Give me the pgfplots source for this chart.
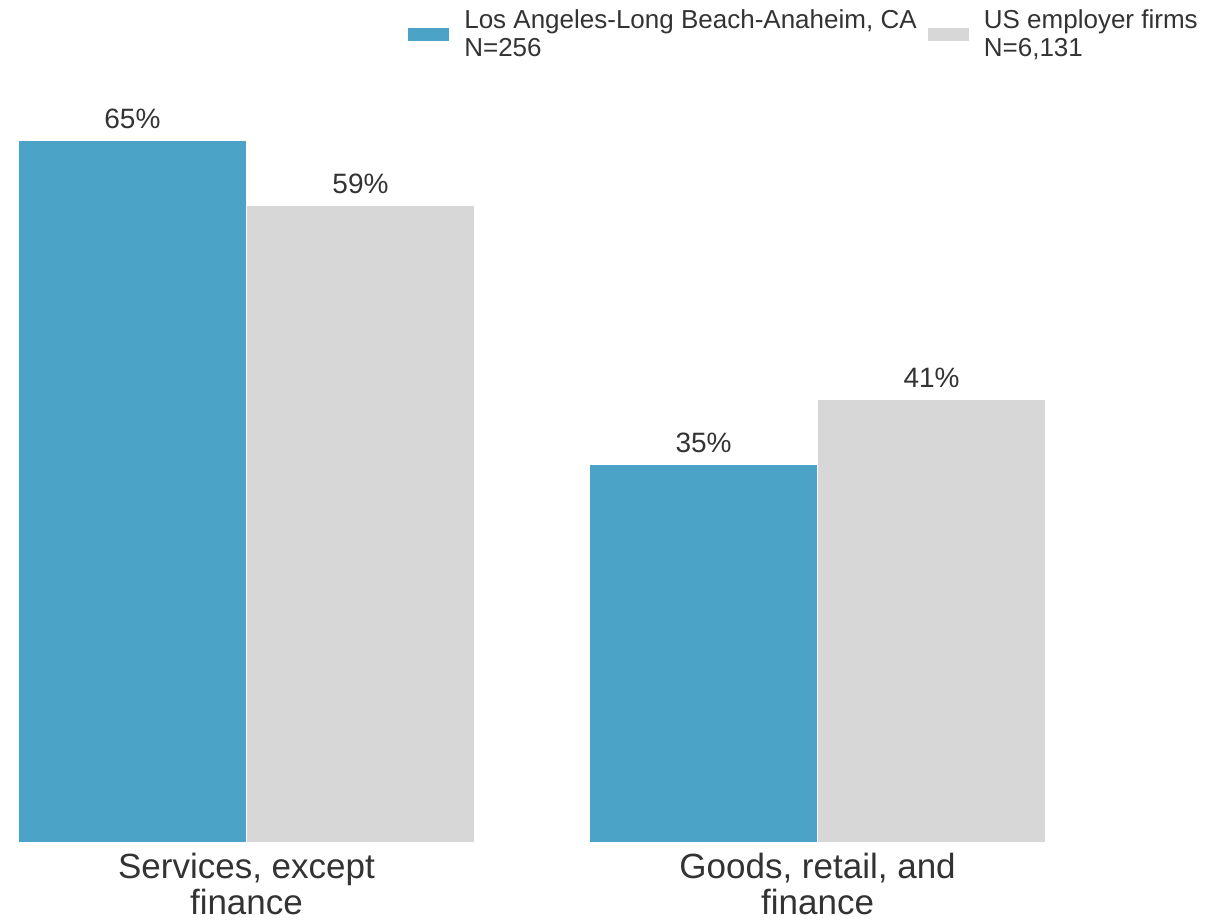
\documentclass[border=0pt]{standalone}
\usepackage{pgfplots}
\pgfplotsset{compat=1.18}
\usepackage{fontspec}
\setmainfont{Liberation Sans}
\definecolor{barblue}{HTML}{4BA4C8}
\definecolor{bargray}{HTML}{D7D7D7}
\definecolor{txt}{HTML}{333333}
\begin{document}
\begin{tikzpicture}[x=0.5bp,y=0.5bp]
\path[use as bounding box] (-18,-77) rectangle (1189,843);
\begin{axis}[
  at={(0,0)}, anchor=south west,
  scale only axis,
  width=514bp, height=378.5bp,
  ybar=0pt, bar width=114bp,
  xmin=-0.4, xmax=1.4,
  ymin=0, ymax=70,
  axis line style={draw=none},
  ytick=\empty,
  xtick={0,1},
  xticklabels={{Services, except\\finance},{Goods, retail, and\\finance}},
  xtick style={draw=none},
  xticklabel style={align=center, text=txt, font=\fontsize{17.5bp}{18bp}\selectfont, inner sep=0pt, yshift=-0.8bp},
  /pgf/number format/assume math mode=true,
  nodes near coords={\pgfmathprintnumber{\pgfplotspointmeta}\%},
  nodes near coords style={text=txt, font=\fontsize{14bp}{15bp}\selectfont, inner sep=0pt, yshift=5.5bp, anchor=south},
  legend columns=2,
  legend cell align=left,
  legend style={draw=none, fill=none, at={(1.1518,1.107)}, anchor=north east, inner sep=0pt,
    font=\fontsize{13bp}{14bp}\selectfont, text=txt,
    cells={align=left},
    /tikz/every odd column/.append style={column sep=5bp},
    /tikz/every even column/.append style={column sep=3bp}},
  legend image code/.code={\fill[#1] (0bp,-3.5bp) rectangle (21bp,3.5bp);},
]
\addplot[fill=barblue, draw=white, line width=0.6bp] coordinates {(0,65) (1,35)};
\addplot[fill=bargray, draw=white, line width=0.6bp] coordinates {(0,59) (1,41)};
\legend{{Los Angeles-Long Beach-Anaheim, CA\\N=256},{US employer firms\\N=6,131}}
\end{axis}
\end{tikzpicture}
\end{document}
